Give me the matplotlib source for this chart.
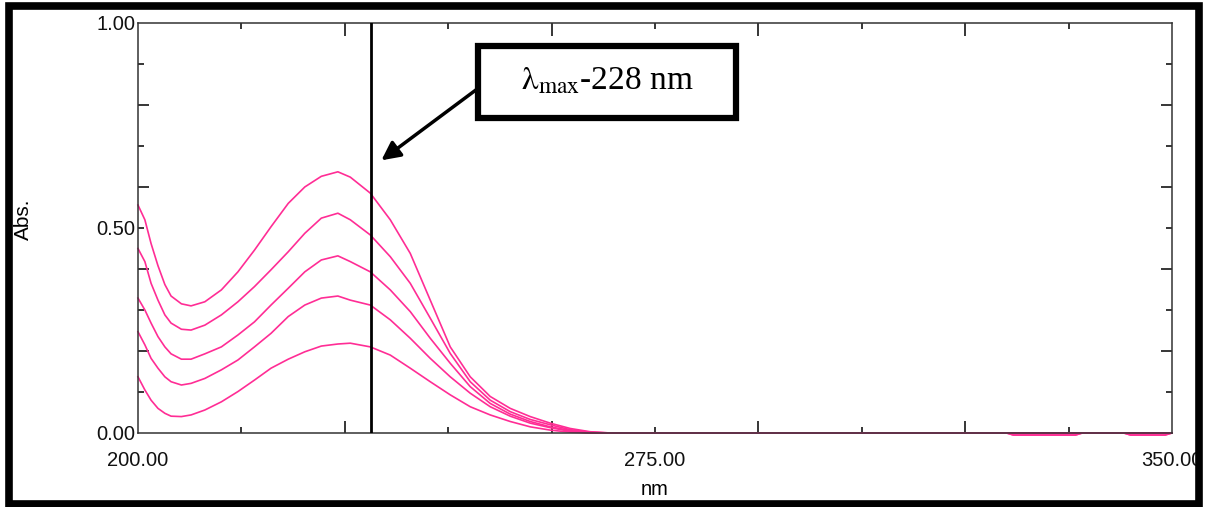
import matplotlib
matplotlib.use("Agg")
import matplotlib.pyplot as plt
from matplotlib.patches import Rectangle
import numpy as np

plt.rcParams['font.family'] = ['Liberation Sans', 'DejaVu Sans']
plt.rcParams['mathtext.fontset'] = 'stix'

# wavelength grid (nm) the spectra were read on
nm = [200.0, 201.0, 201.9, 202.9, 203.9, 204.8, 206.3, 207.7, 209.7, 212.1,
      214.5, 216.9, 219.3, 221.8, 224.2, 226.6, 229.0, 230.8, 233.7, 236.6,
      239.5, 242.4, 245.3, 248.2, 251.1, 254.0, 256.9, 259.8, 262.7, 265.6,
      268.5, 270.0, 326.0, 327.0, 336.0, 337.0, 343.0, 344.0, 349.0, 350.0]

# absorbance of the five standard solutions
abs_1 = [0.556, 0.520, 0.462, 0.408, 0.362, 0.334, 0.315, 0.310, 0.320, 0.349,
         0.393, 0.446, 0.503, 0.560, 0.600, 0.626, 0.637, 0.624, 0.585, 0.520,
         0.438, 0.324, 0.210, 0.137, 0.089, 0.060, 0.040, 0.024, 0.011, 0.003,
         0.0, 0.0, 0.0, -0.005, -0.005, 0.0, 0.0, -0.005, -0.005, 0.0]
abs_2 = [0.450, 0.418, 0.365, 0.324, 0.288, 0.268, 0.253, 0.251, 0.263, 0.288,
         0.320, 0.357, 0.398, 0.442, 0.487, 0.524, 0.536, 0.520, 0.483, 0.430,
         0.365, 0.280, 0.194, 0.125, 0.080, 0.052, 0.033, 0.020, 0.008, 0.002,
         0.0, 0.0, 0.0, 0.0, 0.0, 0.0, 0.0, 0.0, 0.0, 0.0]
abs_3 = [0.329, 0.300, 0.268, 0.235, 0.210, 0.193, 0.180, 0.180, 0.193, 0.210,
         0.239, 0.271, 0.312, 0.353, 0.393, 0.422, 0.432, 0.418, 0.393, 0.349,
         0.296, 0.231, 0.170, 0.113, 0.072, 0.046, 0.028, 0.015, 0.006, 0.001,
         0.0, 0.0, 0.0, 0.0, 0.0, 0.0, 0.0, 0.0, 0.0, 0.0]
abs_4 = [0.247, 0.215, 0.182, 0.158, 0.137, 0.125, 0.117, 0.121, 0.133, 0.154,
         0.178, 0.210, 0.243, 0.284, 0.312, 0.329, 0.334, 0.324, 0.312, 0.276,
         0.231, 0.182, 0.137, 0.097, 0.064, 0.041, 0.024, 0.013, 0.004, 0.0,
         0.0, 0.0, 0.0, 0.0, 0.0, 0.0, 0.0, 0.0, 0.0, 0.0]
abs_5 = [0.137, 0.105, 0.080, 0.060, 0.048, 0.041, 0.040, 0.044, 0.056, 0.076,
         0.101, 0.129, 0.158, 0.180, 0.198, 0.212, 0.217, 0.219, 0.210, 0.190,
         0.158, 0.125, 0.093, 0.064, 0.044, 0.028, 0.015, 0.007, 0.002, 0.0,
         0.0, 0.0, 0.0, -0.005, -0.005, 0.0, 0.0, -0.005, -0.005, 0.0]

cursor_nm = 233.8
label_text = r'$\mathrm{\lambda}_{\mathrm{max}}$-228 nm'

x_labelled = [200, 275, 350]
x_long = [230, 260, 290, 320]
x_short = [215, 245, 275, 305, 335]
y_labelled = [0.0, 0.5, 1.0]
y_long = [0.2, 0.4, 0.6, 0.8]
y_short = [0.1, 0.3, 0.5, 0.7, 0.9]

fig = plt.figure(figsize=(12.05, 5.07), dpi=100)
ax = fig.add_axes([0.1145, 0.146, 0.8581, 0.8087])

pink = '#ff2d95'
for a in [abs_1, abs_2, abs_3, abs_4, abs_5]:
    ax.plot(nm, a, color=pink, lw=1.2, clip_on=False, zorder=1)

ax.axvline(cursor_nm, color='black', lw=2.0, zorder=3)

ax.set_xlim(200, 350)
ax.set_ylim(0, 1)
for s in ax.spines.values():
    s.set_color('#333333')
    s.set_linewidth(1.1)
    s.set_zorder(2)

# labelled ticks carry no marks; long/short marks drawn as major/minor
ax.set_xticks(x_labelled)
ax.set_xticklabels(['%.2f' % v for v in x_labelled])
ax.set_yticks(y_labelled)
ax.set_yticklabels(['%.2f' % v for v in y_labelled])
ax.tick_params(axis='both', which='major', length=0, labelsize=14.5, colors='#111111')
ax.tick_params(axis='x', which='major', pad=13)
ax.tick_params(axis='y', which='major', pad=2)

for loc in ['bottom', 'top']:
    t = ax.secondary_xaxis(loc)
    t.set_xticks(x_long)
    t.set_xticks(x_short, minor=True)
    t.tick_params(which='major', direction='in', length=9, width=1.1,
                  labelbottom=False, labeltop=False)
    t.tick_params(which='minor', direction='in', length=4.5, width=1.1)
    t.spines[loc].set_visible(False)
for loc in ['left', 'right']:
    t = ax.secondary_yaxis(loc)
    t.set_yticks(y_long)
    t.set_yticks(y_short, minor=True)
    t.tick_params(which='major', direction='in', length=8, width=1.1,
                  labelleft=False, labelright=False)
    t.tick_params(which='minor', direction='in', length=4, width=1.1)
    t.spines[loc].set_visible(False)

ax.set_xlabel('nm', fontsize=14.5, labelpad=7)
ax.set_ylabel('Abs.', fontsize=15)
ax.yaxis.set_label_coords(-0.1015, 0.522)

# boxed annotation with arrow
ax.add_patch(Rectangle((0.329, 0.768), 0.2495, 0.1756, transform=ax.transAxes,
                       facecolor='white', edgecolor='black', lw=4.5, zorder=5))
ax.text(0.4536, 0.858, label_text, transform=ax.transAxes, ha='center', va='center',
        fontsize=24, family='Liberation Serif', zorder=6)
ax.annotate('', xy=(0.2354, 0.665), xytext=(0.327, 0.837),
            xycoords='axes fraction', textcoords='axes fraction',
            arrowprops=dict(arrowstyle='-|>', color='black', lw=2.5,
                            mutation_scale=28, shrinkA=0, shrinkB=0), zorder=6)

# frame around the whole figure
fig.patches.append(Rectangle((0.0075, 0.0059), 0.9876, 0.982, transform=fig.transFigure,
                             fill=False, edgecolor='black', lw=5.5))

fig.savefig('out.png', dpi=100)
